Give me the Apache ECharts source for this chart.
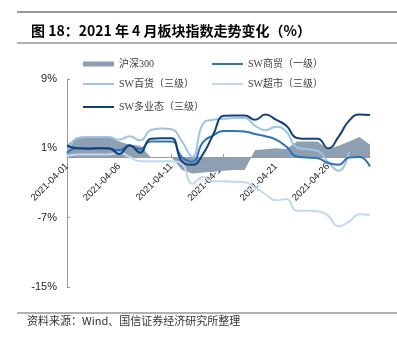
<!DOCTYPE html>
<html>
<head>
<meta charset="utf-8">
<script src="https://cdn.jsdelivr.net/npm/echarts@6/dist/echarts.min.js"></script>
<style>html,body{margin:0;padding:0;background:#fff}#c{width:397px;height:339px}</style>
</head>
<body>
<div id="c"></div>
<script>
const dates = ['2021-04-01','2021-04-02','2021-04-03','2021-04-04','2021-04-05','2021-04-06','2021-04-07','2021-04-08','2021-04-09','2021-04-10',
  '2021-04-11','2021-04-12','2021-04-13','2021-04-14','2021-04-15','2021-04-16','2021-04-17','2021-04-18','2021-04-19','2021-04-20',
  '2021-04-21','2021-04-22','2021-04-23','2021-04-24','2021-04-25','2021-04-26','2021-04-27','2021-04-28','2021-04-29','2021-04-30'];
const hs300    = [1.4, 2.3, 2.3, 2.3, 2.3, 1.8, 1.4, 1.3, 0.0, 0.0, 0.0, -1.5, -1.9, -1.8, -1.7, -1.6, -1.5, -1.5, 0.8, 0.9, 1.0, 0.9, 1.8, 1.8, 1.8, 0.9, 1.3, 1.8, 2.3, 1.4];
const shangmao = [0.5, 1.0, 1.0, 1.0, 0.95, 0.8, 1.3, 0.9, 1.8, 1.8, 1.8, 0.0, -0.55, 1.7, 2.5, 3.0, 3.0, 2.95, 2.65, 2.4, 2.0, 1.2, 0.05, -0.05, -0.15, -0.7, -0.9, -0.05, 0.0, -1.1];
const baihuo   = [0.3, 2.2, 2.3, 2.3, 2.3, 2.0, 2.4, 1.9, 3.1, 3.3, 3.2, 1.8, 0.0, 3.8, 4.3, 4.4, 4.5, 4.5, 3.6, 3.1, 3.5, 2.9, 1.1, 0.9, 0.7, -0.6, -1.6, 0.6, null, null];
const chaoshi  = [0.1, 0.3, 0.3, 0.3, 0.3, 0.5, 0.0, -0.5, -0.5, -0.5, -0.5, -0.8, -3.1, -2.3, -2.8, -2.8, -2.85, -2.9, -3.5, -4.3, -5.0, -4.85, -6.2, -6.2, -6.25, -6.8, -8.0, -7.45, -6.6, -6.7];
const duoyetai = [1.3, 1.0, 0.95, 1.0, 1.0, 0.35, 1.35, 0.5, 2.1, 2.15, 2.15, -0.5, -0.9, 0.3, 2.6, 4.75, 4.8, 4.8, 4.3, 4.9, 4.3, 3.6, 2.2, 2.1, 2.1, 1.0, 2.35, 4.2, 4.9, 4.85];
const names = ['沪深300', 'SW商贸（一级）', 'SW百货（三级）', 'SW超市（三级）', 'SW多业态（三级）'];
const yTicks = {min: -15, max: 9, interval: 8};

const colors = {hs: '#8d9fb1', sm: '#2e74b5', bh: '#9dc3e6', cs: '#c0d9f0', dy: '#12407c'};
const legendFont = {fontSize: 10, color: '#404040', fontFamily: 'Liberation Serif, Noto Sans CJK SC'};
function lg(name, left, top, h) {
  return {data: [{name: name, icon: 'rect'}], left: left, top: top, itemWidth: 31, itemHeight: h,
    itemGap: 0, padding: 0, textStyle: legendFont, selectedMode: false};
}
const gridH = 339 - 79 - 52;
// place the category axis at the zero level of the value axis
const zeroOffset = -gridH * (0 - yTicks.min) / (yTicks.max - yTicks.min);

const chart = echarts.init(document.getElementById('c'));
chart.setOption({
  animation: false,
  title: {text: '图 18：2021 年 4 月板块指数走势变化（%）', left: 26, top: 19,
    textStyle: {fontSize: 14, fontWeight: 'bold', color: '#000', fontFamily: 'Noto Sans CJK SC'}},
  graphic: [
    {type: 'line', shape: {x1: 17, y1: 12, x2: 397, y2: 12}, style: {stroke: '#333', lineWidth: 1}},
    {type: 'line', shape: {x1: 17, y1: 43, x2: 397, y2: 43}, style: {stroke: '#999', lineWidth: 1.5}},
    {type: 'line', shape: {x1: 17, y1: 313, x2: 397, y2: 313}, style: {stroke: '#999', lineWidth: 1.5}},
    {type: 'text', left: 27, top: 315, style: {text: '资料来源：Wind、国信证券经济研究所整理', fontSize: 11, fill: '#333', fontFamily: 'Noto Sans CJK SC'}}
  ],
  legend: [
    lg(names[0], 83, 59, 5),
    lg(names[2], 83, 79, 2),
    lg(names[4], 83, 102, 2),
    lg(names[1], 212, 59, 2),
    lg(names[3], 212, 79, 2)
  ],
  grid: {left: 67, right: 27, top: 79, bottom: 52},
  xAxis: {
    type: 'category', data: dates, boundaryGap: false,
    offset: zeroOffset,
    axisLine: {onZero: false, lineStyle: {color: '#999'}},
    axisTick: {inside: true, length: 3, interval: 4, lineStyle: {color: '#999'}},
    axisLabel: {interval: 4, rotate: 45, margin: 8, fontSize: 9.5, color: '#222', fontFamily: 'Liberation Sans'}
  },
  yAxis: {
    type: 'value', min: yTicks.min, max: yTicks.max, interval: yTicks.interval,
    splitLine: {show: false},
    axisLine: {show: true, lineStyle: {color: '#999'}},
    axisTick: {show: true, inside: true, length: 3, lineStyle: {color: '#999'}},
    axisLabel: {formatter: '{value}%', fontSize: 11, color: '#222', margin: 10, fontFamily: 'Liberation Sans'}
  },
  series: [
    {name: names[0], type: 'line', data: hs300, symbol: 'none', smooth: false,
      itemStyle: {color: colors.hs}, lineStyle: {width: 0}, areaStyle: {color: colors.hs, opacity: 1}},
    {name: names[3], type: 'line', data: chaoshi, symbol: 'none', smooth: 0.5,
      itemStyle: {color: colors.cs}, lineStyle: {width: 2, color: colors.cs}},
    {name: names[2], type: 'line', data: baihuo, symbol: 'none', smooth: 0.5,
      itemStyle: {color: colors.bh}, lineStyle: {width: 2, color: colors.bh}},
    {name: names[1], type: 'line', data: shangmao, symbol: 'none', smooth: 0.5,
      itemStyle: {color: colors.sm}, lineStyle: {width: 2, color: colors.sm}},
    {name: names[4], type: 'line', data: duoyetai, symbol: 'none', smooth: 0.5,
      itemStyle: {color: colors.dy}, lineStyle: {width: 2, color: colors.dy}}
  ]
});
</script>
</body>
</html>
